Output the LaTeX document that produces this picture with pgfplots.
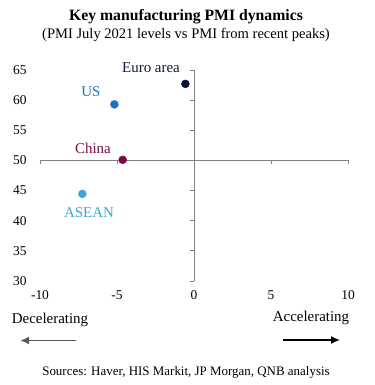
\documentclass[border=0pt]{standalone}
\usepackage{pgfplots}
\pgfplotsset{compat=1.18}
\usetikzlibrary{arrows.meta}
\usepackage{fontspec}
\setmainfont{Liberation Serif}
\definecolor{euroc}{HTML}{0A1838}
\definecolor{usc}{HTML}{1E6FC8}
\definecolor{chinac}{HTML}{7A0A48}
\definecolor{aseanc}{HTML}{3AA8D0}
\definecolor{axgray}{HTML}{808080}
\begin{document}
\begin{tikzpicture}
\path (0bp,0bp) rectangle (375bp,-385bp);
\begin{axis}[
  at={(40bp,-281bp)}, anchor=south west,
  width=308bp, height=211bp, scale only axis,
  xmin=-10, xmax=10, ymin=30, ymax=65,
  xtick={-10,-5,0,5,10}, ytick={30,35,...,65},
  axis line style={draw=none},
  major tick length=0pt,
  tick label style={font=\fontsize{13.5}{15}\selectfont},
  /pgf/number format/assume math mode=true,
  xticklabel style={yshift=-6bp},
  yticklabel style={xshift=-10bp},
  clip=false,
]
\draw[axgray, line width=0.9pt] (axis cs:-10,50) -- (axis cs:10,50);
\draw[axgray, line width=0.9pt] (axis cs:0,30) -- (axis cs:0,65);
\pgfplotsinvokeforeach{-10,-5,5,10}{
  \draw[axgray, line width=0.9pt] (axis cs:#1,50) -- (axis cs:#1,49.34);
}
\pgfplotsinvokeforeach{30,35,40,45,55,60,65}{
  \draw[axgray, line width=0.9pt] (axis cs:0,#1) -- (axis cs:-0.26,#1);
}
\addplot[only marks, mark=*, mark size=4bp, color=euroc] coordinates {(-0.56,62.7)};
\addplot[only marks, mark=*, mark size=4bp, color=usc] coordinates {(-5.17,59.3)};
\addplot[only marks, mark=*, mark size=4bp, color=chinac] coordinates {(-4.63,50.1)};
\addplot[only marks, mark=*, mark size=4bp, color=aseanc] coordinates {(-7.25,44.45)};
\end{axis}
\begin{scope}[every node/.style={font=\fontsize{15}{17}\selectfont, inner sep=0pt}]
\node[euroc] at (151bp,-68bp) {Euro area};
\node[usc] at (91bp,-92bp) {US};
\node[chinac] at (93bp,-148bp) {China};
\node[aseanc] at (89bp,-213bp) {ASEAN};
\node at (50bp,-320bp) {Decelerating};
\node at (311bp,-318bp) {Accelerating};
\node at (186bp,-372bp) {\fontsize{13}{15}\selectfont Sources: Haver, HIS Markit, JP Morgan, QNB analysis};
\node at (186bp,-17bp) {\fontsize{15.8}{18}\selectfont\bfseries Key manufacturing PMI dynamics};
\node at (186bp,-35bp) {\fontsize{14.6}{17}\selectfont (PMI July 2021 levels vs PMI from recent peaks)};
\end{scope}
\draw[-{Latex[length=9bp,width=8bp]}, line width=1.8pt, color=black!65] (76bp,-340.5bp) -- (20bp,-340.5bp);
\draw[-{Latex[length=9bp,width=8bp]}, line width=1.5pt, color=black] (283bp,-340bp) -- (340bp,-340bp);
\end{tikzpicture}
\end{document}
